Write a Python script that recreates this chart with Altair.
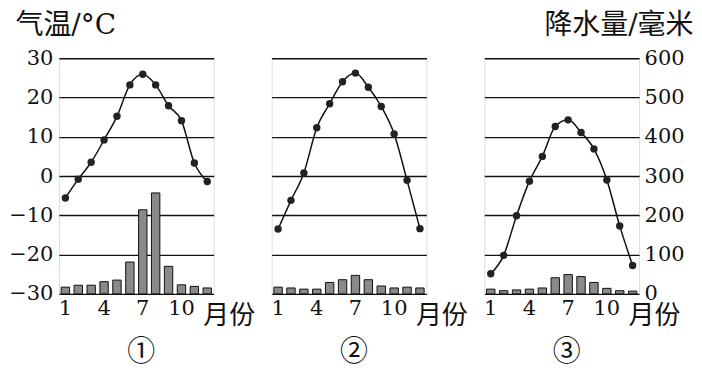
import altair as alt
import pandas as pd

months = list(range(1, 13))
temp1 = [-5.6, -0.8, 3.5, 9.2, 15.2, 23.2, 25.9, 23.2, 17.9, 14.1, 3.3, -1.4]
prec1 = [17, 22, 22, 31, 35, 81, 214, 257, 70, 23, 19, 15]
temp2 = [-13.5, -6.2, 0.8, 12.3, 18.4, 24.0, 26.2, 22.6, 17.7, 10.7, -1.1, -13.4]
prec2 = [17, 15, 12, 12, 29, 36, 47, 36, 20, 15, 17, 15]
temp3 = [-24.9, -20.2, -10.1, -1.3, 5.0, 12.6, 14.3, 11.1, 6.9, -1.0, -12.7, -22.8]
prec3 = [12, 8, 10, 12, 15, 41, 49, 44, 29, 14, 8, 7]
panel_labels = ["①", "②", "③"]
month_ticks = [1, 4, 7, 10]
temp_ticks = [-30, -20, -10, 0, 10, 20, 30]
prec_ticks = [0, 100, 200, 300, 400, 500, 600]

NUM_FONT = "DejaVu Serif, Noto Sans CJK SC"
INK = "#111111"
W, H = 155, 236


def panel(i, temps, precs):
    df = pd.DataFrame({"month": months, "temp": temps, "prec": precs})
    base = alt.Chart(df)
    x = alt.X(
        "month:O",
        scale=alt.Scale(paddingInner=0.35, paddingOuter=0.175),
        axis=alt.Axis(
            values=month_ticks, labelAngle=0, ticks=False, domain=False,
            labelFont=NUM_FONT, labelFontSize=21, labelColor=INK, labelPadding=4,
            title="月份", titleAngle=0, titleX=170, titleY=22,
            titleAlign="center", titleBaseline="middle",
            titleFont=NUM_FONT, titleFontSize=26, titleFontWeight="normal",
            titleColor=INK,
        ),
    )
    if i == 2:
        prec_axis = alt.Axis(
            orient="right", values=prec_ticks, grid=False, ticks=False, domain=False,
            labelFont=NUM_FONT, labelFontSize=21, labelColor=INK, labelPadding=5,
            title="降水量/毫米", titleAngle=0, titleX=54, titleY=-33,
            titleAlign="right", titleBaseline="middle",
            titleFont=NUM_FONT, titleFontSize=28, titleFontWeight="normal",
            titleColor=INK,
        )
    else:
        prec_axis = None
    bars = base.mark_bar(fill="#8a8a8a", stroke=INK, strokeWidth=1).encode(
        x=x,
        y=alt.Y("prec:Q", scale=alt.Scale(domain=[0, 600], nice=False), axis=prec_axis),
    )
    if i == 0:
        temp_axis = alt.Axis(
            orient="left", values=temp_ticks, grid=True, gridColor=INK, gridWidth=1.4,
            gridOpacity=1, ticks=False, domain=False,
            labelFont=NUM_FONT, labelFontSize=21, labelColor=INK, labelPadding=6,
            title="气温/°C", titleAngle=0, titleX=-44, titleY=-33,
            titleAlign="left", titleBaseline="middle",
            titleFont=NUM_FONT, titleFontSize=28, titleFontWeight="normal",
            titleColor=INK,
        )
    else:
        temp_axis = alt.Axis(
            orient="left", values=temp_ticks, grid=True, gridColor=INK, gridWidth=1.4,
            gridOpacity=1, ticks=False, domain=False, labels=False, title=None,
        )
    line = base.mark_line(
        interpolate="monotone", color=INK, strokeWidth=1.5,
        point=alt.OverlayMarkDef(filled=True, size=55, color="#222222", opacity=1),
    ).encode(
        x=x,
        y=alt.Y("temp:Q", scale=alt.Scale(domain=[-30, 30], nice=False), axis=temp_axis),
    )
    return alt.layer(bars, line).resolve_scale(y="independent").properties(
        width=W, height=H,
        title=alt.TitleParams(
            text=panel_labels[i], orient="bottom", anchor="middle",
            font="Noto Sans CJK SC", fontSize=28, fontWeight="normal",
            color=INK, offset=10, dx=5,
        ),
    )


chart = alt.hconcat(
    panel(0, temp1, prec1), panel(1, temp2, prec2), panel(2, temp3, prec3),
    spacing=58, bounds="flush",
).properties(
    padding={"top": 2, "left": 0, "right": 0, "bottom": 3}
).configure_view(stroke=INK, strokeWidth=1.5).configure(background="white")

chart.save("out.html", embed_options={"renderer": "svg", "actions": False})
